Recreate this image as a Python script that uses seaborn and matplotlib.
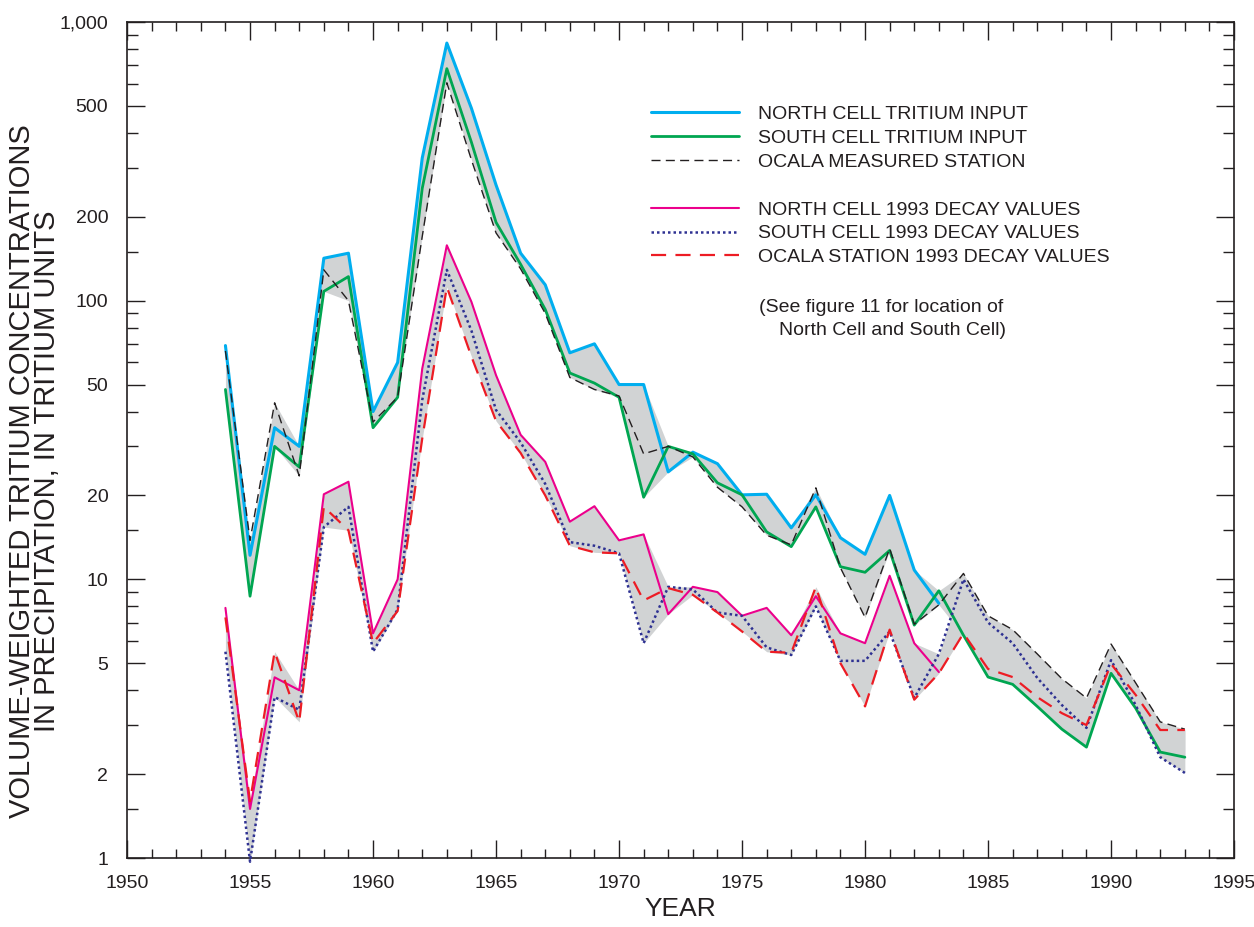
import numpy as np
import pandas as pd
import matplotlib
matplotlib.use('Agg')
import matplotlib.pyplot as plt
import seaborn as sns
from matplotlib.ticker import FixedLocator, FuncFormatter, MultipleLocator
from matplotlib.lines import Line2D

nan = np.nan

# Data (tritium units), years 1954-1993
years = list(range(1954, 1994))

north_input = [69, 12.2, 35, 30, 142, 148, 40, 60, 325, 840,
               490, 260, 148, 114, 65, 70, 50, 50, 24.3, 28.6,
               26, 20.1, 20.2, 15.3, 20.1, 14.1, 12.3, 20, 10.8, 8.2,
               nan, nan, nan, nan, nan, nan, nan, nan, nan, nan]

south_input = [48, 8.7, 30, 25.3, 108, 122, 35, 45, 253, 680,
               370, 191, 135, 93, 55, 50.6, 45, 19.7, 30, 28.2,
               22.2, 20.1, 14.8, 13.1, 18.2, 11.1, 10.6, 12.7, 6.85, 9.1,
               6.3, 4.46, 4.2, 3.5, 2.9, 2.5, 4.6, 3.45, 2.4, 2.3]

ocala_measured = [66, 13.8, 43, 23.5, 129, 100, 36.7, 45, 170, 605,
                  320, 175, 130, 90, 53, 48, 45.5, 28.2, 30, 27.5,
                  21.4, 18.2, 14.4, 13.3, 21.3, 11, 7.3, 12.9, 6.9, 8.1,
                  10.5, 7.4, 6.6, 5.4, 4.4, 3.75, 5.86, 4.25, 3.08, 2.9]

north_decay = [7.9, 1.5, 4.45, 4.0, 20.2, 22.4, 6.4, 10, 57, 158,
               99, 54, 33, 26.4, 16.1, 18.3, 13.8, 14.5, 7.5, 9.4,
               9.0, 7.4, 7.9, 6.3, 8.7, 6.4, 5.9, 10.3, 5.9, 4.65,
               nan, nan, nan, nan, nan, nan, nan, nan, nan, nan]

south_decay = [5.5, 0.97, 3.78, 3.4, 15.4, 18.2, 5.5, 7.8, 44, 129,
               78, 40.5, 31, 22, 13.6, 13.2, 12.4, 5.9, 9.4, 9.2,
               7.6, 7.4, 5.7, 5.35, 8.0, 5.1, 5.1, 6.5, 3.75, 5.4,
               10, 7.0, 5.9, 4.43, 3.54, 2.93, 5.13, 3.54, 2.3, 2.02]

ocala_decay = [7.3, 1.6, 5.5, 3.08, 18.2, 15, 5.9, 7.7, 32, 112,
               63, 37, 28.4, 20, 13.2, 12.5, 12.4, 8.4, 9.3, 8.8,
               7.6, 6.5, 5.5, 5.45, 9.4, 5.0, 3.5, 6.6, 3.7, 4.6,
               6.4, 4.77, 4.46, 3.78, 3.31, 3.0, 4.97, 3.85, 2.88, 2.88]

labels = ['NORTH CELL TRITIUM INPUT', 'SOUTH CELL TRITIUM INPUT',
          'OCALA MEASURED STATION', 'NORTH CELL 1993 DECAY VALUES',
          'SOUTH CELL 1993 DECAY VALUES', 'OCALA STATION 1993 DECAY VALUES']

df = pd.DataFrame({'year': years,
                   'north_input': north_input, 'south_input': south_input,
                   'ocala_measured': ocala_measured, 'north_decay': north_decay,
                   'south_decay': south_decay, 'ocala_decay': ocala_decay})

sns.set_style('ticks')
plt.rcParams['font.family'] = ['Liberation Sans', 'DejaVu Sans']
ink = '#231f20'
grey = '#d1d3d4'

fig = plt.figure(figsize=(12.54, 9.27), dpi=100)
ax = fig.add_axes([0.1013, 0.0744, 0.8828, 0.9019])
ax.set_yscale('log')

# grey bands between the highest and lowest curve of each group
for cols in (['north_input', 'south_input', 'ocala_measured'],
             ['north_decay', 'south_decay', 'ocala_decay']):
    ax.fill_between(df['year'], df[cols].min(axis=1), df[cols].max(axis=1),
                    color=grey, lw=0, zorder=1)

styles = [
    ('north_input', '#00aeef', 2.2, '-'),
    ('south_input', '#00a651', 2.0, '-'),
    ('ocala_measured', ink, 1.0, (0, (6.5, 3.8))),
    ('north_decay', '#ec008c', 1.5, '-'),
    ('south_decay', '#2e3192', 1.8, (0, (1, 1.2))),
    ('ocala_decay', '#ed1c24', 1.6, (0, (6.8, 4.2))),
]
for (col, color, lw, ls), lab in zip(styles, labels):
    sns.lineplot(data=df, x='year', y=col, ax=ax, color=color, lw=lw,
                 linestyle=ls, label=lab, zorder=3, clip_on=False)

ax.set_xlim(1950, 1995)
ax.set_ylim(1, 1000)

ax.xaxis.set_major_locator(MultipleLocator(5))
ax.xaxis.set_minor_locator(MultipleLocator(1))
ax.yaxis.set_major_locator(FixedLocator([1, 2, 5, 10, 20, 50, 100, 200, 500, 1000]))
ax.yaxis.set_minor_locator(FixedLocator([m * 10 ** d for d in range(3)
                                         for m in (1.5, 3, 4, 6, 7, 8, 9)]))
ax.yaxis.set_major_formatter(FuncFormatter(lambda v, p: f'{v:,.0f}'))
ax.yaxis.set_minor_formatter(FuncFormatter(lambda v, p: ''))

ax.tick_params(which='both', direction='in', top=True, right=True,
               color=ink, labelcolor=ink, width=1.0)
ax.tick_params(which='major', length=13, labelsize=14)
ax.tick_params(axis='x', which='major', pad=12)
ax.tick_params(axis='y', which='major', pad=13.5)
ax.tick_params(axis='x', which='minor', length=6.5)
ax.tick_params(axis='y', which='minor', length=8)
for sp in ax.spines.values():
    sp.set_color(ink)
    sp.set_linewidth(1.2)

ax.set_xlabel('YEAR', fontsize=19, color=ink, labelpad=4)
ax.set_ylabel('VOLUME-WEIGHTED TRITIUM CONCENTRATIONS\nIN PRECIPITATION, IN TRITIUM UNITS',
              fontsize=21, color=ink, linespacing=0.87)
ax.yaxis.set_label_coords(-0.0596, 0.463)

handles, labs = ax.get_legend_handles_labels()
handles.insert(3, Line2D([], [], color='none'))
labs.insert(3, ' ')
ax.legend(handles, labs, loc='upper left', bbox_to_anchor=(0.4734, 0.9000),
          frameon=False, fontsize=14, handlelength=4.5, handletextpad=1.0,
          labelspacing=0.32, borderpad=0, borderaxespad=0, labelcolor=ink)

ax.text(0.5709, 0.658, '(See figure 11 for location of', transform=ax.transAxes,
        fontsize=14, color=ink, va='center', ha='left')
ax.text(0.589, 0.6305, 'North Cell and South Cell)', transform=ax.transAxes,
        fontsize=14, color=ink, va='center', ha='left')

fig.savefig('out.png', dpi=100)
